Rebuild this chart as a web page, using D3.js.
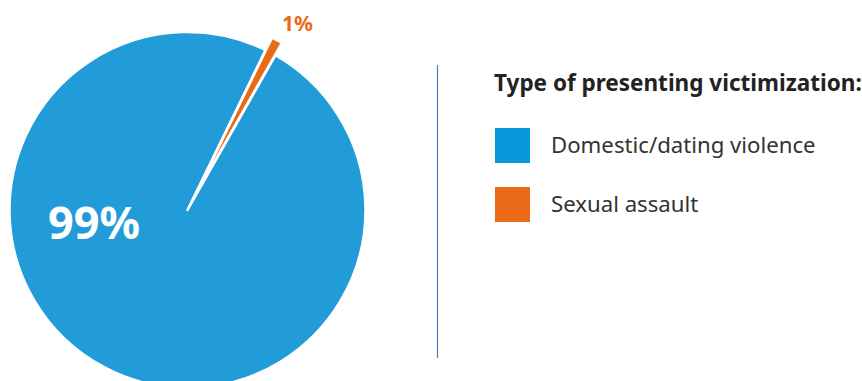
<!DOCTYPE html>
<html>
<head>
<meta charset="utf-8">
<script src="https://cdn.jsdelivr.net/npm/d3@7"></script>
<style>
  body { margin: 0; background: #fff; }
  svg { display: block; font-family: "Source Sans Pro", "Noto Sans", "Open Sans", sans-serif; }
</style>
</head>
<body>
<div id="chart"></div>
<script>
// Type of presenting victimization
const categories = ['Domestic/dating violence', 'Sexual assault'];
const values = [99, 1];
const labels = ['99%', '1%'];
const colors = ['#229cd8', '#ea6b17'];
const legendColors = ['#0899da', '#ea6b17'];

const width = 862, height = 381;

const svg = d3.select('#chart')
    .append('svg')
    .attr('width', width)
    .attr('height', height);

const cx = 187.5, cy = 210, radius = 178;
const start = 29.6 * Math.PI / 180;

const pie = d3.pie()
    .sort(null)
    .startAngle(start)
    .endAngle(start + 2 * Math.PI);

const arc = d3.arc()
    .innerRadius(0)
    .outerRadius(radius);

const arcs = pie(values);

const g = svg.append('g')
    .attr('transform', `translate(${cx}, ${cy})`);

// small slice is pulled out along its middle angle
const explode = 14;
g.selectAll('path')
    .data(arcs)
    .enter()
    .append('path')
    .attr('d', arc)
    .attr('fill', (d, i) => colors[i])
    .attr('stroke', '#fff')
    .attr('stroke-width', 2.5)
    .attr('stroke-linejoin', 'round')
    .attr('transform', (d, i) => {
        if (i === 0) return null;
        const mid = (d.startAngle + d.endAngle) / 2;
        return `translate(${explode * Math.sin(mid)}, ${-explode * Math.cos(mid)})`;
    });

// labels
svg.append('text')
    .attr('x', 48)
    .attr('y', 239)
    .attr('font-size', 45)
    .attr('font-weight', 'bold')
    .attr('fill', '#fff')
    .text(labels[0]);

svg.append('text')
    .attr('x', 282)
    .attr('y', 31)
    .attr('font-size', 21)
    .attr('font-weight', 'bold')
    .attr('fill', colors[1])
    .text(labels[1]);

// divider
svg.append('line')
    .attr('x1', 437.5).attr('x2', 437.5)
    .attr('y1', 65).attr('y2', 358)
    .attr('stroke', '#4a80b8')
    .attr('stroke-width', 1.2);

// legend
const legend = svg.append('g');

legend.append('text')
    .attr('x', 494)
    .attr('y', 91)
    .attr('font-size', 22.5)
    .attr('font-weight', 'bold')
    .attr('fill', '#222')
    .text('Type of presenting victimization:');

const rows = legend.selectAll('g.row')
    .data(categories)
    .enter()
    .append('g')
    .attr('class', 'row')
    .attr('transform', (d, i) => `translate(495, ${128 + i * 59})`);

rows.append('rect')
    .attr('width', 35)
    .attr('height', 35)
    .attr('fill', (d, i) => legendColors[i]);

rows.append('text')
    .attr('x', 56)
    .attr('y', 25)
    .attr('font-size', 22.2)
    .attr('fill', '#333')
    .text(d => d);
</script>
</body>
</html>
